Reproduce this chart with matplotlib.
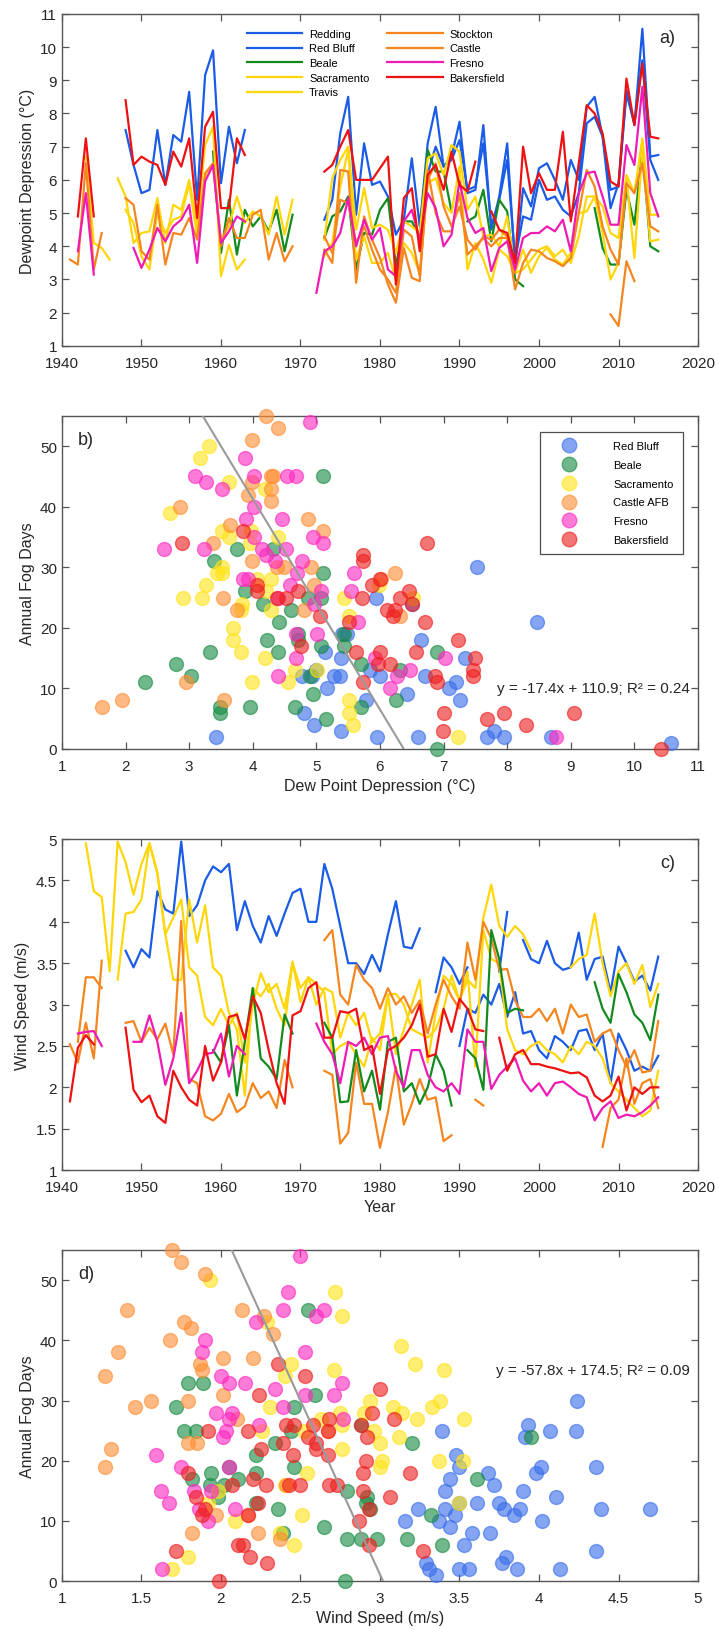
import numpy as np
import matplotlib
matplotlib.use("Agg")
import matplotlib.pyplot as plt
from matplotlib.lines import Line2D

plt.rcParams['font.family'] = ['Liberation Sans', 'DejaVu Sans']

years = np.arange(1941, 2016)

# ---------------- panel a: dewpoint depression (start year -> values) ----------------
dp_redding = {1948: [7.5, 6.45, 5.6, 5.7, 7.5, 5.85, 7.35, 7.15, 8.65, 5.4, 9.15, 9.9, 5.9, 7.6, 6.5, 7.5],
              1973: [4.8, 5.4, 7.4, 8.5, 4.95, 7.1, 5.85, 5.95, 5.5, 4.35, 4.8, 6.65, 4.6, 7.1, 8.2, 6.4, 6.7,
                     7.75, 5.6, 5.7, 7.65, 4.5, 5.5, 7.1, 3.4, 5.75, 5.2, 6.35, 6.5, 6.0, 5.4, 6.6, 6.0, 8.2,
                     8.5, 7.3, 5.15, 5.9, 8.7, 7.65, 10.55, 6.7, 6.75]}
dp_redbluff = {1986: [6.2, 7.0, 6.4, 6.6, 7.2, 5.7, 5.8, 7.1, 4.6, 5.4, 6.6, 3.6, 4.9, 4.8, 6.0, 5.4, 5.5, 5.1,
                      4.9, 5.6, 7.7, 7.9, 7.3, 5.7, 5.8, 8.6, 7.7, 9.6, 6.6, 6.0]}
dp_beale = {1959: [6.85, 3.8, 5.4, 3.75, 5.1, 4.6, 4.9, 4.45, 5.1, 3.85, 4.95],
            1973: [4.25, 4.9, 5.05, 5.5, 3.3, 4.4, 4.35, 5.1, 5.45, 3.4, 4.75, 4.75, 4.3, 6.9, 6.25, 6.25, 5.05],
            1991: [4.75, 4.9, 5.7, 4.15, 5.4, 5.05, 3.0, 2.8],
            2007: [5.15, 3.95, 3.45, 3.45, 5.7, 4.65, 6.9, 4.0, 3.85]}
dp_sacramento = {1947: [6.05, 5.5, 4.1, 4.4, 4.45, 5.45, 4.1, 5.25, 5.1, 6.0, 4.6, 7.05, 7.6, 3.1, 4.05, 3.3, 3.6],
                 1973: [4.2, 6.05, 6.6, 7.0, 4.5, 5.75, 4.55, 4.65, 4.5, 3.8, 4.75, 4.6, 4.4, 6.65, 6.8, 6.15,
                        7.05, 6.85, 5.1, 5.5, 4.3, 4.35, 4.0, 4.9, 3.2, 3.9, 3.2, 3.7, 3.95, 3.6, 3.45, 3.8, 5.0,
                        5.05, 5.5, 5.2, 4.4, 4.25, 6.15, 5.6, 7.25, 4.95, 4.95]}
dp_travis = {1943: [6.7, 4.1, 3.95, 3.6],
             1948: [5.1, 4.7, 3.7, 3.3, 5.0, 4.4, 4.8, 4.9, 5.9, 4.3, 6.1, 6.5, 4.2, 4.6, 5.5, 4.7, 5.05, 4.9,
                    4.35, 5.5, 4.35, 5.4],
             1973: [3.7, 4.1, 5.8, 6.9, 3.6, 4.3, 3.5, 3.5, 3.8, 3.0, 4.1, 3.8, 3.2, 5.9, 6.05, 5.3, 5.0, 6.4,
                    3.3, 4.1, 3.6, 2.9, 3.9, 3.7, 3.2, 3.3, 3.6, 3.9, 4.0, 3.7, 3.9, 3.5, 4.3, 5.5, 5.5, 4.4,
                    3.0, 3.5, 6.1, 3.65, 6.9, 4.15, 4.2]}
dp_stockton = {1941: [3.6, 3.45, 6.5, 3.3, 4.4],
               1948: [5.45, 5.25, 3.85, 3.6, 5.25, 3.45, 4.4, 4.35, 4.85, 4.2, 6.2, 6.5, 4.0, 4.85, 4.25, 4.25,
                      4.95, 5.1, 3.6, 4.4, 3.55, 4.0],
               1973: [3.9, 3.5, 6.3, 6.25, 2.9, 4.9, 4.2, 3.65, 2.85, 2.3, 3.95, 3.05, 2.95, 6.3, 5.0, 4.45,
                      4.45, 5.6, 3.75, 4.0, 4.25, 4.0, 4.25, 4.25, 2.7, 3.5, 3.9, 3.85, 3.65, 3.55, 3.4, 3.65,
                      5.0, 6.3, 5.8, 4.6, 3.9, 3.45, 5.9, 5.6, 6.5, 4.6, 4.45]}
dp_castle = {1973: [4.3, 3.8, 5.4, 5.3, 4.1, 4.6, 3.9, 3.3, 3.0, 2.6, 4.5, 4.3, 3.1, 6.0, 6.5, 5.2, 4.6, 5.2,
                    4.2, 3.9, 4.3, 4.2, 4.5, 4.3, 3.2],
             2009: [1.95, 1.6, 3.55, 2.95]}
dp_fresno = {1942: [3.85, 5.6, 3.15],
             1949: [3.95, 3.35, 3.9, 4.55, 4.15, 4.6, 4.8, 5.25, 3.5, 5.95, 6.45, 4.1, 4.45, 4.9, 4.75],
             1972: [2.6, 3.85, 4.0, 4.4, 5.45, 4.0, 4.8, 4.2, 4.55, 3.3, 3.1, 4.75, 5.1, 4.2, 5.6, 5.15, 4.0,
                    4.35, 5.95, 4.85, 4.4, 4.55, 3.25, 3.95, 4.15, 3.3, 4.25, 4.4, 4.4, 4.6, 4.45, 4.8, 3.85,
                    5.6, 6.2, 6.25, 5.5, 4.65, 4.65, 7.05, 6.45, 8.8, 5.6, 4.9]}
dp_bakersfield = {1942: [4.9, 7.25, 4.9],
                  1948: [8.4, 6.45, 6.7, 6.55, 6.45, 5.85, 6.85, 6.4, 7.25, 4.85, 7.6, 8.05, 5.15, 5.15, 7.25, 6.75],
                  1973: [6.25, 6.45, 7.0, 7.5, 6.0, 6.0, 6.0, 6.35, 6.7, 2.85, 5.45, 5.75, 3.85, 6.15, 6.45,
                         5.7, 6.85, 5.85, 5.65, 6.55],
                  1994: [5.05, 4.5, 4.4, 3.5, 7.0, 5.6, 6.2, 5.7, 5.7, 7.45, 4.75, 6.5, 8.25, 8.0, 7.4, 5.95,
                         5.8, 9.05, 7.65, 9.5, 7.3, 7.25]}

# ---------------- panel c: wind speed ----------------
ws_redbluff = {1948: [3.65, 3.45, 3.67, 3.57, 4.37, 4.15, 4.1, 4.97, 4.07, 4.2, 4.5, 4.67, 4.6, 4.7, 3.9,
                      4.25, 3.95, 3.75, 4.07, 3.83, 4.1, 4.35, 4.4, 4.0, 4.0, 4.7, 4.4, 3.95, 3.5, 3.5, 3.37,
                      3.6, 3.4, 3.85, 4.25, 3.7, 3.68, 3.92],
               1987: [3.15, 3.57, 3.45, 3.25, 3.45],
               1995: [3.4, 4.12],
               1998: [3.78, 3.55, 3.5, 3.77, 3.5, 3.42, 3.45, 3.87, 3.3, 3.55, 3.58, 3.15, 3.7, 3.5, 3.28,
                      3.35, 3.17, 3.58]}
ws_redding = {1990: [2.5, 2.95, 2.9, 3.12, 3.0, 3.25, 2.85, 3.15, 2.65, 2.68, 2.45, 2.35, 2.62, 2.55, 2.45,
                     2.68, 2.7, 2.45, 2.65, 2.05, 2.65, 2.45, 2.2, 2.25, 2.2, 2.38]}
ws_sacramento = {1943: [4.95, 4.37, 4.3, 3.4, 4.97, 4.72, 4.33, 4.7, 4.95, 4.6, 3.85, 4.05, 4.27, 3.45, 3.35,
                        2.85, 2.75, 2.95, 2.75, 2.9, 2.3, 3.0, 3.38, 3.15, 3.25, 2.95, 3.52, 3.03, 3.33, 3.0,
                        3.2, 3.15, 2.6, 2.9, 2.75, 2.9, 2.55, 2.65, 3.12, 3.13, 3.0, 2.7, 2.65, 2.6, 2.7, 2.95,
                        3.35, 3.05, 3.3, 3.2, 4.05, 4.45, 3.95, 3.82, 3.95, 3.85, 3.65],
                 2004: [3.45, 3.55, 3.6, 4.1, 3.5, 3.1, 3.4, 3.5, 3.25, 3.48, 2.97, 3.25]}
ws_travis = {1947: [3.3, 4.1, 4.12, 4.27, 4.95, 4.58, 3.85, 3.3, 3.3, 4.27, 3.75, 4.2, 3.45, 3.35, 2.9, 2.7,
                    1.9, 3.2, 3.1, 3.25, 2.95, 2.75, 3.5, 3.2, 3.33, 3.25, 3.15, 2.4, 2.5, 2.55, 2.4, 2.25,
                    2.6, 2.45, 3.12, 2.4, 2.7, 3.0, 3.3, 2.3, 2.9, 3.35, 3.25, 3.05, 3.4, 2.25, 3.9, 3.55,
                    3.5, 2.7, 2.45, 2.4, 2.5, 2.55, 2.45, 2.4, 2.3, 2.5, 2.4, 2.55, 2.5, 2.35, 2.05, 1.95,
                    1.85, 1.75, 1.65, 1.72, 2.2]}
ws_stockton = {1941: [2.52, 2.3, 2.78, 2.35, 3.53],
               1948: [2.78, 2.8, 2.55, 2.72, 2.58, 2.77, 2.4, 4.01, 2.1, 2.05, 1.65, 1.6, 1.68, 1.92, 1.7,
                      1.77, 2.05, 1.87, 1.95, 1.75, 2.33, 2.0],
               1973: [2.2, 2.15, 1.32, 1.45, 2.3, 1.8, 1.8, 1.27, 1.7, 2.25, 1.55, 1.8, 2.1, 1.85, 1.88, 1.35, 1.42],
               1992: [1.85, 1.78],
               2008: [1.28, 1.75, 1.85, 2.35, 1.8, 2.05, 2.1, 1.75]}
ws_castle = {1942: [2.55, 3.33, 3.33, 3.2],
             1973: [3.78, 3.9, 3.12, 3.0, 3.48, 3.3, 3.2, 2.95, 3.2, 3.0, 3.1, 2.9, 3.05, 2.65, 3.0, 3.3, 3.1,
                    2.95, 3.75, 3.3, 4.0, 3.8, 3.42, 3.43, 3.05, 2.85, 2.85, 2.95, 2.8, 2.95, 2.65, 3.0, 2.85,
                    2.88, 2.55, 2.65, 2.7, 2.45, 2.25, 2.45, 2.18, 2.2, 2.8]}
ws_beale = {1959: [2.45, 2.3, 2.75, 1.9, 2.55, 3.2, 2.35, 2.25, 2.1, 2.88, 2.65],
            1973: [2.78, 2.6, 1.82, 1.83, 2.45, 1.95, 2.2, 1.73, 2.55, 2.6, 1.95, 2.05, 1.8, 2.0, 2.4, 2.2, 1.78],
            1991: [2.45, 2.35, 1.97, 3.9, 3.55, 2.9, 2.95, 2.93],
            2007: [3.27, 2.95, 2.78, 3.37, 3.15, 2.88, 2.78, 2.57, 3.12]}
ws_fresno = {1942: [2.65, 2.67, 2.68, 2.5],
             1949: [2.55, 2.55, 2.87, 2.55, 2.03, 2.35, 2.9, 2.05, 2.2, 2.4, 2.42, 2.65, 2.13, 2.5, 2.4],
             1972: [2.77, 2.55, 2.4, 2.05, 2.55, 2.5, 2.6, 2.4, 2.6, 2.62, 2.2, 2.0, 2.45, 2.45, 2.15, 2.0,
                    1.95, 2.05, 1.92, 2.7, 2.55, 2.55, 1.98, 2.15, 2.25, 2.35, 2.08, 1.95, 2.05, 1.9, 2.05,
                    2.07, 2.0, 1.92, 1.88, 1.6, 1.75, 1.83, 1.63, 1.67, 1.65, 1.7, 1.78, 1.88]}
ws_bakersfield = {1941: [1.83, 2.48, 2.63, 2.52],
                  1948: [2.72, 1.97, 1.82, 1.9, 1.65, 1.57, 2.2, 2.0, 1.85, 1.78, 2.5, 2.08, 2.3, 2.85, 2.88,
                         2.58, 3.1, 2.9, 2.45, 2.05, 1.8, 2.87, 2.92, 3.2, 3.27, 2.6, 2.6, 2.92, 2.9, 2.95,
                         2.45, 2.5, 1.92, 2.45, 2.5, 2.6, 2.75, 3.0, 2.37, 2.4, 2.95, 2.67, 3.07, 2.95, 2.7, 2.68],
                  1995: [2.6, 2.2, 2.4, 2.45, 2.28, 2.28, 2.25, 2.23, 2.2, 2.17, 2.18, 2.12, 1.9, 1.83, 1.9,
                         2.13, 1.72, 2.0, 1.92, 2.0, 2.0]}

# ---------------- panel b: (dewpoint depression, fog days) ----------------
b_redbluff = [(7.53, 30), (8.47, 21), (6.65, 18), (7.33, 15), (5.93, 25), (6.51, 24), (5.4, 19), (5.48, 19),
              (5.38, 15), (5.13, 16), (5.84, 13), (6.0, 12), (5.27, 12), (5.37, 12), (4.77, 12), (4.93, 12),
              (4.99, 13), (5.17, 10), (6.43, 9), (6.7, 12), (7.08, 10), (7.2, 11), (7.26, 8), (5.78, 8),
              (4.8, 6), (4.96, 4), (5.38, 3), (3.42, 2), (5.96, 2), (6.6, 2), (7.69, 2), (7.79, 3),
              (7.95, 2), (8.69, 2), (10.57, 1)]
b_beale = [(5.11, 45), (3.39, 31), (3.75, 33), (4.32, 33), (5.11, 29), (3.87, 26), (4.16, 24), (4.6, 23),
           (4.87, 25), (5.08, 25), (4.42, 21), (4.71, 19), (4.71, 18), (4.23, 18), (4.39, 16), (3.33, 16),
           (2.79, 14), (3.03, 12), (2.31, 11), (5.08, 17), (5.43, 19), (5.43, 17), (5.7, 14), (6.31, 13),
           (6.89, 16), (6.25, 8), (5.7, 7), (4.95, 9), (4.9, 12), (4.66, 7), (5.15, 5), (3.95, 7),
           (3.48, 7), (3.48, 6), (6.9, 0)]
b_sacramento = [(3.31, 50), (3.17, 48), (2.7, 39), (3.62, 44), (4.19, 43), (3.52, 36), (3.62, 35), (3.97, 36),
                (3.95, 34), (4.4, 35), (3.52, 30), (3.43, 29), (3.52, 29), (3.27, 27), (2.91, 25), (3.2, 25),
                (4.07, 28), (4.29, 28), (4.2, 26), (3.83, 24), (3.82, 23), (4.29, 23), (3.69, 20), (3.69, 18),
                (3.82, 16), (4.19, 15), (3.98, 11), (4.56, 11), (4.67, 13), (5.01, 13), (5.43, 25), (5.51, 22),
                (5.98, 27), (6.52, 25), (5.51, 8), (5.51, 6), (5.58, 4), (7.22, 2)]
b_castle = [(4.21, 55), (4.39, 53), (3.98, 51), (4.29, 45), (4.32, 45), (3.98, 44), (4.29, 43), (3.92, 42),
            (4.28, 41), (2.85, 40), (4.87, 38), (3.64, 37), (5.1, 36), (3.38, 34), (3.99, 31), (4.38, 30),
            (4.49, 30), (4.91, 30), (4.96, 27), (3.53, 25), (3.75, 23), (4.8, 23), (6.24, 29), (6.01, 28),
            (6.31, 22), (2.95, 11), (3.55, 8), (1.94, 8), (1.63, 7)]
b_fresno = [(4.9, 54), (3.87, 48), (3.09, 45), (4.02, 45), (4.54, 45), (4.68, 45), (3.27, 44), (3.51, 43),
            (4.02, 40), (3.89, 38), (4.46, 38), (4.02, 35), (4.94, 35), (5.1, 34), (2.6, 33), (3.24, 33),
            (4.14, 33), (4.53, 33), (4.2, 32), (4.35, 31), (4.77, 31), (3.84, 28), (3.93, 28), (4.7, 29),
            (4.58, 27), (5.59, 29), (4.39, 25), (5.08, 26), (5.54, 26), (4.97, 24), (5.66, 21), (4.68, 19),
            (5.01, 19), (4.68, 15), (4.39, 12), (6.27, 12), (6.47, 13), (5.92, 15), (6.16, 10), (7.02, 15),
            (8.76, 2)]
b_bakersfield = [(2.88, 34), (3.85, 36), (4.07, 26), (4.07, 27), (4.52, 25), (4.38, 25), (4.71, 26), (5.06, 22),
                 (4.76, 17), (5.51, 21), (5.62, 16), (5.73, 32), (5.73, 31), (5.72, 25), (5.87, 27), (6.0, 28),
                 (6.11, 23), (6.24, 23), (6.2, 22), (6.31, 25), (6.45, 26), (6.5, 24), (6.74, 34), (6.7, 21),
                 (6.56, 16), (6.0, 16), (5.97, 14), (6.16, 14), (5.73, 11), (7.23, 18), (6.87, 12), (6.89, 11),
                 (7.5, 15), (7.46, 13), (7.47, 12), (7.01, 6), (6.99, 3), (7.68, 5), (7.95, 6), (8.29, 4),
                 (9.05, 6), (10.42, 0)]

# ---------------- panel d: (wind speed, fog days) ----------------
d_redbluff = [(4.24, 30), (4.23, 25), (4.07, 25), (3.93, 26), (3.91, 24), (3.39, 25), (3.48, 21), (3.5, 19),
              (4.01, 19), (3.98, 18), (4.36, 19), (3.68, 18), (3.44, 17), (3.72, 16), (3.9, 15), (3.41, 15),
              (4.11, 14), (3.75, 13), (3.61, 13), (3.5, 13), (3.24, 12), (3.41, 12), (3.78, 12), (3.88, 12),
              (4.39, 12), (4.7, 12), (3.47, 11), (3.84, 11), (3.16, 10), (3.37, 10), (4.02, 10), (3.44, 9),
              (3.58, 8), (3.69, 8), (3.53, 6), (4.36, 5), (3.79, 4), (3.77, 3), (3.29, 3), (3.31, 2),
              (3.5, 2), (3.56, 2), (3.86, 2), (4.13, 2), (3.35, 1)]
d_beale = [(2.55, 45), (1.79, 33), (1.89, 33), (2.59, 31), (1.72, 29), (2.46, 29), (1.77, 25), (1.84, 25),
           (2.44, 25), (2.88, 26), (2.34, 23), (3.2, 23), (3.95, 24), (2.22, 21), (2.46, 19), (2.05, 19),
           (1.94, 18), (2.22, 18), (1.82, 17), (2.11, 17), (3.61, 17), (1.93, 16), (2.02, 16), (2.79, 15),
           (1.98, 14), (2.92, 14), (2.22, 13), (2.91, 13), (2.36, 12), (2.94, 12), (3.32, 11), (2.65, 9),
           (2.39, 8), (2.79, 7), (2.88, 7), (2.98, 7), (3.17, 7), (3.39, 6), (2.78, 0)]
d_sacramento = [(1.93, 50), (2.72, 48), (2.76, 44), (2.29, 43), (3.13, 39), (3.22, 36), (2.44, 36), (3.4, 35),
                (2.71, 35), (2.4, 34), (3.38, 30), (2.94, 30), (3.33, 29), (3.08, 29), (2.31, 29), (3.14, 28),
                (2.75, 28), (2.9, 28), (2.63, 27), (3.23, 27), (3.53, 27), (2.76, 26), (2.52, 25), (2.26, 25),
                (2.96, 25), (3.12, 24), (3.0, 23), (2.76, 22), (3.01, 20), (3.37, 20), (3.52, 20), (3.0, 19),
                (2.54, 18), (1.98, 15), (1.92, 13), (3.5, 13), (2.09, 10), (2.51, 11), (2.37, 8), (2.46, 6),
                (1.79, 4), (1.69, 2), (2.4, 16)]
d_castle = [(1.69, 55), (1.75, 53), (1.9, 51), (1.41, 45), (2.13, 45), (2.27, 44), (1.77, 43), (1.81, 42),
            (2.33, 41), (1.68, 40), (1.35, 38), (2.01, 37), (2.2, 37), (1.87, 36), (1.88, 35), (1.27, 34),
            (2.01, 31), (1.79, 30), (1.56, 30), (1.46, 29), (2.1, 27), (1.79, 23), (1.85, 23), (1.31, 22),
            (1.27, 19), (1.97, 11), (2.17, 11), (1.82, 8), (2.23, 8), (2.37, 7), (2.67, 25), (2.41, 16)]
d_fresno = [(2.5, 54), (2.42, 48), (2.39, 45), (2.6, 44), (2.65, 45), (2.22, 43), (1.9, 40), (1.88, 38),
            (2.53, 38), (2.0, 34), (2.05, 33), (2.15, 33), (2.76, 33), (2.34, 32), (2.53, 31), (2.71, 31),
            (1.97, 28), (2.07, 28), (2.39, 29), (2.05, 27), (2.77, 27), (2.24, 26), (2.03, 25), (2.01, 24),
            (1.59, 21), (1.75, 19), (2.05, 19), (1.62, 15), (1.83, 15), (1.94, 15), (1.67, 13), (1.86, 12),
            (2.09, 12), (1.92, 10), (1.63, 2)]
d_bakersfield = [(2.36, 36), (2.53, 34), (3.0, 32), (2.24, 31), (2.68, 27), (3.09, 27), (2.95, 28), (2.58, 26),
                 (2.41, 26), (2.46, 26), (2.88, 26), (2.17, 25), (2.67, 25), (1.92, 25), (2.55, 24), (2.92, 24),
                 (2.39, 23), (2.6, 23), (2.25, 22), (2.6, 22), (2.45, 21), (2.67, 21), (2.91, 20), (1.79, 18),
                 (2.89, 18), (3.19, 18), (2.2, 17), (2.07, 16), (2.28, 16), (2.43, 16), (2.5, 16), (2.68, 16),
                 (2.73, 16), (1.84, 14), (3.06, 14), (2.89, 15), (2.23, 13), (1.9, 12), (2.93, 12), (1.88, 11),
                 (2.17, 11), (2.87, 10), (2.11, 6), (2.14, 6), (2.93, 6), (1.72, 5), (3.27, 5), (2.18, 4),
                 (2.29, 3), (1.99, 0)]

fit_b = (-17.4, 110.9, 0.24)
fit_d = (-57.8, 174.5, 0.09)

# colours
c_blue = '#1A5CE5'
c_green = '#138A1E'
c_yellow = '#FFD60A'
c_orange = '#F5861F'
c_magenta = '#F01AB4'
c_red = '#EE1111'
s_blue = '#3A6FEA'
s_green = '#1A8C45'
s_yellow = '#FFE41A'
s_orange = '#FF8F35'
s_magenta = '#FF2AC0'
s_red = '#EE2020'

axis_col = '#555555'
text_col = '#262626'


def expand(segments):
    y = np.full(len(years), np.nan)
    for start, vals in segments.items():
        i = start - years[0]
        y[i:i + len(vals)] = vals
    return y


def style(ax):
    for sp in ax.spines.values():
        sp.set_color(axis_col)
        sp.set_linewidth(1.0)
    ax.tick_params(direction='in', top=True, right=True, length=5, width=0.9,
                   colors=axis_col, labelcolor=text_col, labelsize=11)
    ax.tick_params(axis='x', pad=7)


fig = plt.figure(figsize=(7.19, 16.31), dpi=100)
L, W = 0.0862, 0.8846
ax_a = fig.add_axes([L, 0.7873, W, 0.2036])
ax_b = fig.add_axes([L, 0.5402, W, 0.2042])
ax_c = fig.add_axes([L, 0.2820, W, 0.2029])
ax_d = fig.add_axes([L, 0.0300, W, 0.2029])

# ---- a ----
a_series = [('Redding', dp_redding, c_blue), ('Red Bluff', dp_redbluff, c_blue),
            ('Beale', dp_beale, c_green), ('Sacramento', dp_sacramento, c_yellow),
            ('Travis', dp_travis, c_yellow), ('Stockton', dp_stockton, c_orange),
            ('Castle', dp_castle, c_orange), ('Fresno', dp_fresno, c_magenta),
            ('Bakersfield', dp_bakersfield, c_red)]
for name, seg, col in a_series:
    ax_a.plot(years, expand(seg), color=col, lw=1.6, label=name)
ax_a.set_xlim(1940, 2020)
ax_a.set_ylim(1, 11)
ax_a.set_xticks(np.arange(1940, 2021, 10))
ax_a.set_yticks(np.arange(1, 12, 1))
ax_a.set_ylabel('Dewpoint Depression (°C)', fontsize=11.5, color=text_col)
ax_a.legend(loc='upper left', bbox_to_anchor=(0.275, 0.985), ncol=2, frameon=False, fontsize=8,
            handlelength=5.0, labelspacing=0.42, columnspacing=1.6, handletextpad=0.6)
ax_a.text(0.965, 0.93, 'a)', transform=ax_a.transAxes, fontsize=13, color=text_col, ha='right', va='center')
style(ax_a)

# ---- c ----
c_series = [('Red Bluff', ws_redbluff, c_blue), ('Redding', ws_redding, c_blue),
            ('Sacramento', ws_sacramento, c_yellow), ('Travis', ws_travis, c_yellow),
            ('Stockton', ws_stockton, c_orange), ('Castle', ws_castle, c_orange),
            ('Beale', ws_beale, c_green), ('Fresno', ws_fresno, c_magenta),
            ('Bakersfield', ws_bakersfield, c_red)]
for name, seg, col in c_series:
    ax_c.plot(years, expand(seg), color=col, lw=1.6)
ax_c.set_xlim(1940, 2020)
ax_c.set_ylim(1, 5)
ax_c.set_xticks(np.arange(1940, 2021, 10))
ax_c.set_yticks(np.arange(1, 5.01, 0.5))
ax_c.set_yticklabels(['1', '1.5', '2', '2.5', '3', '3.5', '4', '4.5', '5'])
ax_c.set_xlabel('Year', fontsize=11.5, color=text_col)
ax_c.set_ylabel('Wind Speed (m/s)', fontsize=11.5, color=text_col)
ax_c.text(0.965, 0.93, 'c)', transform=ax_c.transAxes, fontsize=13, color=text_col, ha='right', va='center')
style(ax_c)

# ---- scatter panels ----
stations = ['Red Bluff', 'Beale', 'Sacramento', 'Castle AFB', 'Fresno', 'Bakersfield']
scol = [s_blue, s_green, s_yellow, s_orange, s_magenta, s_red]
b_sets = [b_redbluff, b_beale, b_sacramento, b_castle, b_fresno, b_bakersfield]
d_sets = [d_redbluff, d_beale, d_sacramento, d_castle, d_fresno, d_bakersfield]


def scatter_panel(ax, sets, fit, xlim, xticks, xlabel, tag, txt_xy):
    for name, pts, col in zip(stations, sets, scol):
        xs, ys = zip(*pts)
        ax.scatter(xs, ys, s=100, facecolor=col, edgecolor=col, alpha=0.62, linewidths=1.0,
                   label=name, zorder=3, clip_on=False)
    m, c, r2 = fit
    xl = np.linspace((55 - c) / m, (0 - c) / m, 50)
    ax.plot(xl, m * xl + c, color='#9a9a9a', lw=1.5, zorder=4)
    ax.set_xlim(*xlim)
    ax.set_ylim(0, 55)
    ax.set_xticks(xticks)
    ax.set_yticks(np.arange(0, 51, 10))
    ax.set_xlabel(xlabel, fontsize=11.5, color=text_col)
    ax.set_ylabel('Annual Fog Days', fontsize=11.5, color=text_col)
    ax.text(0.025, 0.93, tag, transform=ax.transAxes, fontsize=13, color=text_col, ha='left', va='center')
    ax.text(txt_xy[0], txt_xy[1], 'y = %.1fx + %.1f; R² = %.2f' % (m, c, r2), fontsize=11,
            color=text_col, ha='right', va='center')
    style(ax)


scatter_panel(ax_b, b_sets, fit_b, (1, 11), np.arange(1, 12), 'Dew Point Depression (°C)', 'b)', (10.88, 10))
scatter_panel(ax_d, d_sets, fit_d, (1, 5), np.arange(1, 5.01, 0.5), 'Wind Speed (m/s)', 'd)', (4.95, 35))
ax_d.set_xticklabels(['1', '1.5', '2', '2.5', '3', '3.5', '4', '4.5', '5'])

handles = [Line2D([], [], ls='none', marker='o', markersize=10.5, markerfacecolor=col, markeredgecolor=col,
                  alpha=0.62) for col in scol]
leg = ax_b.legend(handles, stations, loc='upper right', bbox_to_anchor=(0.976, 0.952), fontsize=8,
                  frameon=True, fancybox=False, edgecolor='#222222', labelspacing=0.8,
                  handletextpad=2.2, borderpad=0.8, borderaxespad=0, handlelength=3.6)
leg.get_frame().set_linewidth(0.9)

fig.savefig('out.png', dpi=100)
